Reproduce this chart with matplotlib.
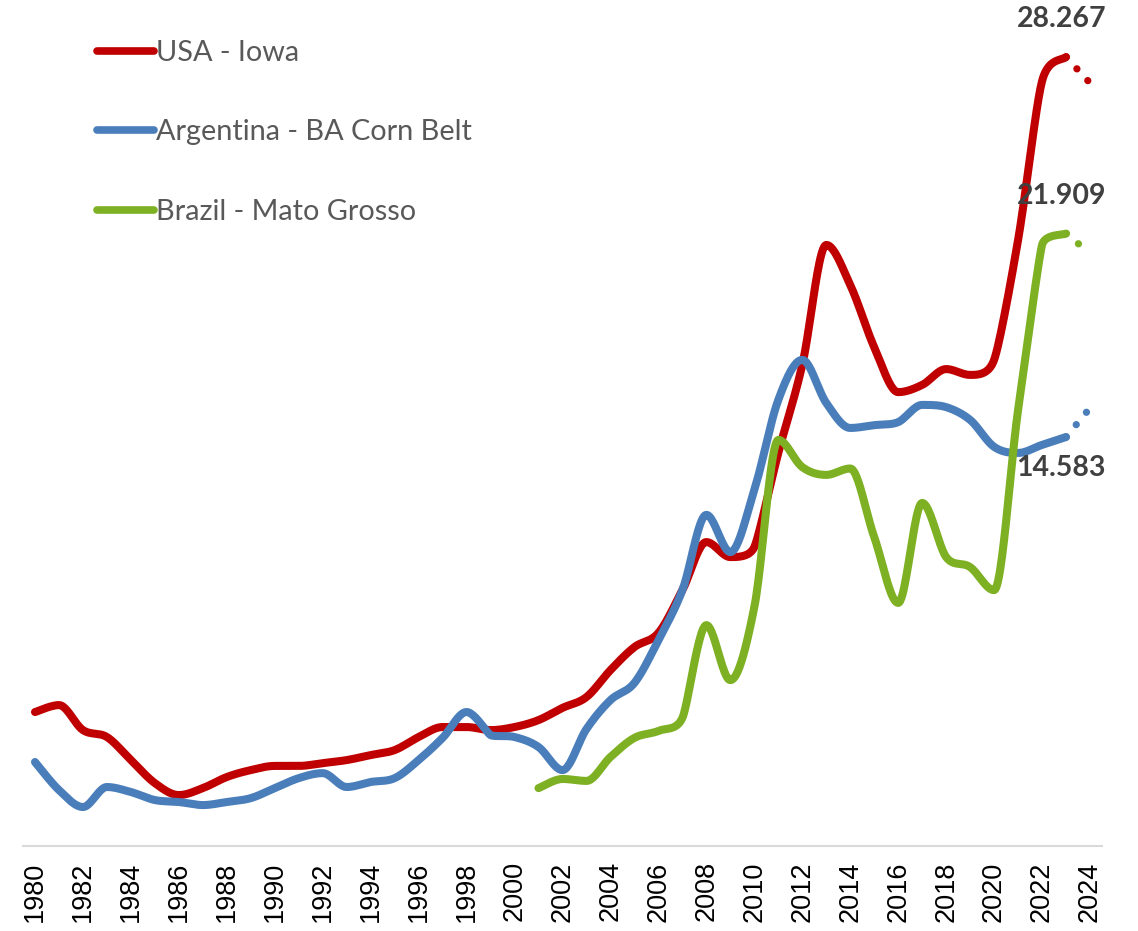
import numpy as np
import matplotlib.pyplot as plt

# yield series (t/ha), smoothed like the spreadsheet version
years = list(range(1980, 2024))
usa_iowa = [4.68, 4.93, 4.03, 3.78, 2.95, 2.12, 1.69, 1.94, 2.34, 2.59,
            2.74, 2.74, 2.84, 2.95, 3.13, 3.31, 3.78, 4.14, 4.14, 4.03,
            4.14, 4.39, 4.83, 5.22, 6.19, 7.02, 7.53, 9.07, 10.80, 10.26,
            10.62, 14.01, 17.18, 21.50, 20.06, 17.82, 16.20, 16.46, 17.03, 16.82,
            17.36, 21.68, 27.40, 28.267]
argentina_ba = [2.88, 1.87, 1.26, 1.98, 1.80, 1.51, 1.44, 1.33, 1.44, 1.58,
                1.94, 2.30, 2.48, 1.98, 2.16, 2.30, 2.95, 3.75, 4.68, 3.85,
                3.78, 3.42, 2.59, 4.07, 5.11, 5.73, 7.27, 9.07, 11.78, 10.44,
                12.68, 15.92, 17.36, 15.81, 14.91, 15.01, 15.12, 15.74, 15.66, 15.20,
                14.23, 14.01, 14.30, 14.583]
brazil_years = list(range(2001, 2024))
brazil_mt = [1.94, 2.27, 2.20, 3.06, 3.75, 4.00, 4.47, 7.81, 5.83, 8.46,
             14.48, 13.50, 13.22, 13.45, 10.98, 8.61, 12.21, 10.26, 9.90, 9.07,
             15.56, 21.50, 21.909]

# 2024 estimates (dotted)
proj_years = [2023, 2024]
usa_proj = [28.267, 27.33]
arg_proj = [14.583, 15.63]
bra_proj = [21.909, 21.2]

labels = ['USA - Iowa', 'Argentina - BA Corn Belt', 'Brazil - Mato Grosso']
colors = ['#C00000', '#4A7EBB', '#7DB022']
tick_years = list(range(1980, 2025, 2))


def smooth(x, y, n=24):
    # bezier through every point, tangents limited so the curve
    # does not overshoot its neighbours
    x = np.asarray(x, float)
    y = np.asarray(y, float)
    k = len(x)
    d = np.zeros((k, 2))
    for i in range(k):
        a = max(i - 1, 0)
        b = min(i + 1, k - 1)
        d[i] = [(x[b] - x[a]) / 6, (y[b] - y[a]) / 6]
        if 0 < i < k - 1:
            dl = y[i] - y[i - 1]
            dr = y[i + 1] - y[i]
            if dl * dr <= 0:
                d[i, 1] = 0
            else:
                lim = min(abs(dl), abs(dr))
                if abs(d[i, 1]) > lim:
                    d[i] *= lim / abs(d[i, 1])
    t = np.linspace(0, 1, n, endpoint=False)[:, None]
    out = []
    for i in range(k - 1):
        p1 = np.array([x[i], y[i]])
        p2 = np.array([x[i + 1], y[i + 1]])
        c1 = p1 + d[i]
        c2 = p2 - d[i + 1]
        seg = ((1 - t) ** 3) * p1 + 3 * ((1 - t) ** 2) * t * c1 \
            + 3 * (1 - t) * t ** 2 * c2 + t ** 3 * p2
        out.append(seg)
    out.append(np.array([[x[-1], y[-1]]]))
    out = np.vstack(out)
    return out[:, 0], out[:, 1]


W, H = 1138, 931
fig = plt.figure(figsize=(W / 100, H / 100), dpi=100)
ax = fig.add_axes([23 / W, 85 / H, 1079 / W, 846 / H])
ax.set_xlim(1979.5, 2024.5)
ax.set_ylim(-4 / 27.77, 842 / 27.77)

lw = 5.8
series = [(years, usa_iowa, usa_proj), (years, argentina_ba, arg_proj),
          (brazil_years, brazil_mt, bra_proj)]
for (xs, ys, proj), lab, col in zip(series, labels, colors):
    sx, sy = smooth(xs, ys)
    ax.plot(sx, sy, color=col, lw=lw, solid_capstyle='round',
            solid_joinstyle='round', label=lab)
    ax.plot(proj_years, proj, color=col, lw=lw * 0.9,
            linestyle=(0, (0.01, 2.2)), dash_capstyle='round')

# end-of-series value labels
lab_font = dict(family='Lato', weight='bold', size=20.5, color='#404040',
                ha='center')
ax.annotate(f'{usa_iowa[-1]:.3f}', (2023, usa_iowa[-1]), xytext=(-3, 18),
            textcoords='offset points', va='bottom', **lab_font)
ax.annotate(f'{brazil_mt[-1]:.3f}', (2023, brazil_mt[-1]), xytext=(-3, 18),
            textcoords='offset points', va='bottom', **lab_font)
ax.annotate(f'{argentina_ba[-1]:.3f}', (2023, argentina_ba[-1]), xytext=(-4, -13),
            textcoords='offset points', va='top', **lab_font)

for side in ['top', 'right', 'left']:
    ax.spines[side].set_visible(False)
ax.spines['bottom'].set_color('#D9D9D9')
ax.spines['bottom'].set_linewidth(1.5)
ax.set_yticks([])
ax.set_xticks(tick_years)
ax.set_xticklabels([str(y) for y in tick_years], rotation=90,
                   family='Liberation Sans', fontsize=19.5)
ax.tick_params(axis='x', length=0, pad=11)

leg = ax.legend(loc='upper left', bbox_to_anchor=(97 / W, 1 - 40 / H),
                bbox_transform=fig.transFigure, frameon=False,
                prop=dict(family='Lato', size=20.8), handlelength=1.97,
                handletextpad=0.08, labelspacing=1.85, borderpad=0,
                borderaxespad=0)
for txt in leg.get_texts():
    txt.set_color('#595959')
for h in leg.get_lines():
    h.set_linewidth(5.5)
    h.set_solid_capstyle('round')

fig.savefig('out.png', dpi=100)
